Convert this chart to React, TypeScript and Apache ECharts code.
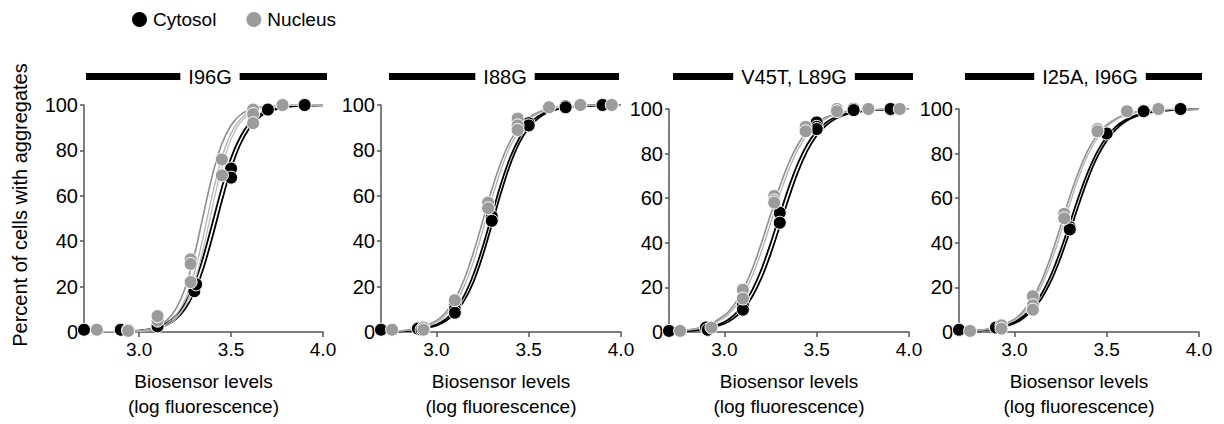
import { useEffect, useRef } from 'react';
import * as echarts from 'echarts';

const FONT = '"Liberation Sans", Arial, Helvetica, sans-serif';

const X_GRID = [2.7, 2.8, 2.9, 3.0, 3.05, 3.1, 3.15, 3.2, 3.25, 3.3, 3.35, 3.4, 3.45, 3.5, 3.55, 3.6, 3.65, 3.7, 3.8, 3.9, 4.0];

const X_TICKS = [3.0, 3.5, 4.0];
const PANEL_TITLES = ['I96G', 'I88G', 'V45T, L89G', 'I25A, I96G'];
const LEGEND_NAMES = ['Cytosol', 'Nucleus'];

// ---- Panel 1: I96G ----
const P1_CYTO_FIT_A = [0.02, 0.05, 0.18, 0.63, 1.18, 2.18, 3.98, 7.2, 12.6, 21.2, 33.5, 48.5, 63.7, 76.7, 85.9, 92.0, 95.5, 97.6, 99.3, 99.8, 99.94];
const P1_CYTO_FIT_B = [0.01, 0.04, 0.14, 0.49, 0.93, 1.7, 3.1, 5.7, 10.1, 17.4, 28.2, 42.3, 57.7, 71.8, 82.6, 89.9, 94.3, 96.9, 99.1, 99.7, 99.9];
const P1_NUC_FIT_A = [0.01, 0.03, 0.13, 0.56, 1.2, 2.5, 5.1, 10.2, 19.3, 33.7, 51.9, 69.6, 82.9, 91.1, 95.6, 97.9, 99.0, 99.5, 99.9, 100, 100];
const P1_NUC_FIT_B = [0, 0.02, 0.09, 0.39, 0.82, 1.7, 3.6, 7.3, 14.2, 25.9, 42.6, 61.1, 76.9, 87.5, 93.7, 96.9, 98.5, 99.3, 99.8, 100, 100];
const P1_NUC_FIT_C = [0, 0.01, 0.07, 0.31, 0.65, 1.4, 2.85, 5.9, 11.6, 21.8, 37.1, 55.6, 72.7, 84.9, 92.3, 96.2, 98.2, 99.1, 99.8, 100, 100];
const P1_CYTO_PTS = [[2.70, 1], [2.90, 1], [3.10, 2.5], [3.30, 18], [3.31, 21], [3.50, 72], [3.50, 68], [3.70, 98], [3.90, 100]];
const P1_NUC_PTS = [[2.77, 1], [2.94, 1], [2.94, 0.5], [3.10, 5], [3.10, 7], [3.28, 32], [3.28, 30], [3.28, 22], [3.45, 76], [3.45, 69], [3.62, 98], [3.62, 96], [3.62, 92], [3.78, 100]];

// ---- Panel 2: I88G ----
const P2_CYTO_FIT_A = [0.11, 0.34, 1.06, 3.3, 5.6, 9.6, 15.9, 25.2, 37.3, 51.4, 65.3, 77.0, 85.6, 91.4, 94.9, 97.1, 98.3, 99.1, 99.7, 99.9, 100];
const P2_CYTO_FIT_B = [0.09, 0.28, 0.9, 2.8, 4.8, 8.2, 13.7, 21.9, 33.4, 47.1, 61.3, 73.8, 83.4, 89.9, 94.0, 96.6, 98.0, 98.9, 99.6, 99.9, 100];
const P2_NUC_FIT_A = [0.17, 0.53, 1.66, 5.0, 8.6, 14.4, 23.0, 34.8, 48.6, 62.7, 74.8, 84.1, 90.4, 94.4, 96.7, 98.1, 98.9, 99.4, 99.8, 100, 100];
const P2_NUC_FIT_B = [0.14, 0.45, 1.4, 4.3, 7.4, 12.4, 20.1, 30.8, 44.3, 58.6, 71.5, 81.8, 88.8, 93.4, 96.2, 97.8, 98.7, 99.3, 99.8, 99.9, 100];
const P2_CYTO_PTS = [[2.70, 1], [2.90, 1.5], [2.92, 1], [3.10, 12], [3.10, 10], [3.10, 8.5], [3.30, 51], [3.30, 49], [3.50, 92], [3.50, 91], [3.70, 99.5], [3.70, 99], [3.90, 100]];
const P2_NUC_PTS = [[2.76, 1], [2.93, 2], [2.93, 1], [3.10, 14], [3.28, 57], [3.28, 54.5], [3.44, 94], [3.44, 91], [3.44, 89], [3.61, 99], [3.78, 100], [3.95, 100]];

// ---- Panel 3: V45T, L89G ----
const P3_CYTO_FIT_A = [0.2, 0.58, 1.63, 4.5, 7.4, 11.9, 18.7, 28.0, 39.7, 52.6, 65.2, 76.0, 84.3, 90.1, 93.9, 96.3, 97.8, 98.7, 99.5, 99.8, 99.9];
const P3_CYTO_FIT_B = [0.17, 0.47, 1.3, 3.7, 6.1, 9.9, 15.7, 24.0, 34.8, 47.4, 60.3, 72.0, 81.3, 88.1, 92.6, 95.5, 97.3, 98.4, 99.4, 99.8, 99.9];
const P3_NUC_FIT_A = [0.35, 0.98, 2.7, 7.4, 11.9, 18.7, 28.0, 39.7, 52.6, 65.2, 76.0, 84.3, 90.1, 93.9, 96.3, 97.8, 98.7, 99.2, 99.7, 99.9, 100];
const P3_NUC_FIT_B = [0.3, 0.83, 2.35, 6.4, 10.4, 16.4, 25.0, 35.9, 48.7, 61.5, 73.1, 82.1, 88.6, 92.9, 95.7, 97.4, 98.4, 99.1, 99.7, 99.9, 100];
const P3_CYTO_PTS = [[2.70, 0.5], [2.90, 2], [2.91, 1], [3.10, 12], [3.10, 10], [3.30, 53.5], [3.30, 49], [3.50, 94], [3.50, 92], [3.50, 91], [3.70, 100], [3.70, 99.5], [3.90, 100]];
const P3_NUC_PTS = [[2.76, 0.5], [2.93, 2], [3.10, 19], [3.10, 15], [3.27, 61], [3.27, 59], [3.27, 58], [3.44, 92], [3.44, 90], [3.61, 100], [3.61, 99], [3.78, 100], [3.95, 100]];

// ---- Panel 4: I25A, I96G ----
const P4_CYTO_FIT_A = [0.24, 0.64, 1.7, 4.5, 7.2, 11.4, 17.5, 25.9, 36.6, 48.8, 61.1, 72.1, 81.0, 87.5, 92.1, 95.0, 96.9, 98.1, 99.3, 99.7, 99.9];
const P4_CYTO_FIT_B = [0.2, 0.55, 1.5, 3.9, 6.3, 10.0, 15.4, 23.1, 33.2, 45.0, 57.4, 69.0, 78.6, 85.8, 90.9, 94.3, 96.4, 97.8, 99.2, 99.7, 99.9];
const P4_NUC_FIT_A = [0.25, 0.72, 2.1, 5.8, 9.5, 15.3, 23.5, 34.5, 47.3, 60.6, 72.3, 81.8, 88.4, 92.9, 95.7, 97.4, 98.5, 99.1, 99.7, 99.9, 100];
const P4_NUC_FIT_B = [0.22, 0.64, 1.8, 5.2, 8.5, 13.7, 21.3, 31.6, 44.0, 57.4, 69.7, 79.7, 87.0, 92.0, 95.1, 97.1, 98.3, 99.0, 99.6, 99.9, 100];
const P4_CYTO_PTS = [[2.70, 1], [2.90, 2], [3.10, 10], [3.30, 47], [3.30, 46], [3.50, 89], [3.70, 99], [3.90, 100]];
const P4_NUC_PTS = [[2.76, 0.5], [2.93, 3], [2.93, 1.5], [3.10, 16], [3.10, 12], [3.10, 10], [3.27, 53], [3.27, 51], [3.45, 91], [3.45, 90], [3.61, 99], [3.78, 100]];

const PANEL_DATA = [
  { cytoFits: [P1_CYTO_FIT_A, P1_CYTO_FIT_B], nucFits: [P1_NUC_FIT_A, P1_NUC_FIT_B, P1_NUC_FIT_C], cytoPts: P1_CYTO_PTS, nucPts: P1_NUC_PTS },
  { cytoFits: [P2_CYTO_FIT_A, P2_CYTO_FIT_B], nucFits: [P2_NUC_FIT_A, P2_NUC_FIT_B], cytoPts: P2_CYTO_PTS, nucPts: P2_NUC_PTS },
  { cytoFits: [P3_CYTO_FIT_A, P3_CYTO_FIT_B], nucFits: [P3_NUC_FIT_A, P3_NUC_FIT_B], cytoPts: P3_CYTO_PTS, nucPts: P3_NUC_PTS },
  { cytoFits: [P4_CYTO_FIT_A, P4_CYTO_FIT_B], nucFits: [P4_NUC_FIT_A, P4_NUC_FIT_B], cytoPts: P4_CYTO_PTS, nucPts: P4_NUC_PTS },
];

// layout (pixels)
const GRIDS = [
  { left: 84, top: 105, width: 239, height: 227 },
  { left: 381, top: 105, width: 240, height: 227 },
  { left: 669, top: 109, width: 240, height: 228 },
  { left: 959, top: 109, width: 240, height: 228 },
];
const TITLE_BARS = [
  { x0: 86, x1: 327, cx: 210 },
  { x0: 389, x1: 619, cx: 505 },
  { x0: 673, x1: 913, cx: 794 },
  { x0: 965, x1: 1202, cx: 1090 },
];

const CYTO_COLOR = '#000000';
const NUC_COLOR = '#9b9b9b';
const NUC_FIT_COLORS = ['#8e8e8e', '#b0b0b0', '#bdbdbd'];
const AXIS_COLOR = '#555555';

export default function App() {
  const ref = useRef<HTMLDivElement>(null);

  useEffect(() => {
    if (!ref.current) return;
    const chart = echarts.init(ref.current, undefined, { renderer: 'svg' });

    const xAxis: any[] = [];
    const yAxis: any[] = [];
    const series: any[] = [];
    const graphic: any[] = [];

    GRIDS.forEach((g, i) => {
      xAxis.push({
        type: 'value',
        gridIndex: i,
        min: 2.7,
        max: 4.0,
        axisLine: { show: true, onZero: false, lineStyle: { color: AXIS_COLOR, width: 1.5 } },
        axisTick: { show: true, length: 5, customValues: X_TICKS, lineStyle: { color: AXIS_COLOR, width: 1.5 } },
        axisLabel: {
          customValues: X_TICKS,
          formatter: (v: number) => v.toFixed(1),
          color: '#000',
          fontSize: 19,
          fontFamily: FONT,
          margin: 8,
        },
        splitLine: { show: false },
        name: 'Biosensor levels\n(log fluorescence)',
        nameLocation: 'middle',
        nameGap: 37,
        nameTextStyle: { color: '#000', fontSize: 19, fontFamily: FONT, lineHeight: 25 },
      });
      yAxis.push({
        type: 'value',
        gridIndex: i,
        min: 0,
        max: 100,
        interval: 20,
        axisLine: { show: true, lineStyle: { color: AXIS_COLOR, width: 1.5 } },
        axisTick: { show: true, length: 4, lineStyle: { color: AXIS_COLOR, width: 1.5 } },
        axisLabel: { color: '#000', fontSize: 20, fontFamily: FONT, margin: 6 },
        splitLine: { show: false },
      });

      const p = PANEL_DATA[i];
      p.cytoFits.forEach((fit, k) => {
        series.push({
          type: 'line',
          name: `cyto-fit-${i}-${k}`,
          xAxisIndex: i,
          yAxisIndex: i,
          data: X_GRID.map((x, j) => [x, fit[j]]),
          showSymbol: false,
          smooth: 0.35,
          lineStyle: { color: CYTO_COLOR, width: 1.8 },
          silent: true,
          z: 2,
        });
      });
      p.nucFits.forEach((fit, k) => {
        series.push({
          type: 'line',
          name: `nuc-fit-${i}-${k}`,
          xAxisIndex: i,
          yAxisIndex: i,
          data: X_GRID.map((x, j) => [x, fit[j]]),
          showSymbol: false,
          smooth: 0.35,
          lineStyle: { color: NUC_FIT_COLORS[k], width: k === 0 ? 1.6 : 1.3 },
          silent: true,
          z: 2,
        });
      });
      series.push({
        type: 'scatter',
        name: LEGEND_NAMES[0],
        xAxisIndex: i,
        yAxisIndex: i,
        data: p.cytoPts,
        symbol: 'circle',
        symbolSize: 13,
        clip: false,
        itemStyle: { color: CYTO_COLOR, borderColor: '#fff', borderWidth: 1, opacity: 1 },
        z: 3,
      });
      series.push({
        type: 'scatter',
        name: LEGEND_NAMES[1],
        xAxisIndex: i,
        yAxisIndex: i,
        data: p.nucPts,
        symbol: 'circle',
        symbolSize: 13,
        clip: false,
        itemStyle: { color: NUC_COLOR, borderColor: '#fff', borderWidth: 1, opacity: 1 },
        z: 4,
      });

      const tb = TITLE_BARS[i];
      graphic.push({
        type: 'rect',
        shape: { x: tb.x0, y: 73, width: tb.x1 - tb.x0, height: 7 },
        style: { fill: '#000' },
        z: 10,
      });
      graphic.push({
        type: 'text',
        x: tb.cx,
        y: 77,
        z: 11,
        style: {
          text: PANEL_TITLES[i],
          fill: '#000',
          font: `20px ${FONT}`,
          align: 'center',
          verticalAlign: 'middle',
          backgroundColor: '#fff',
          padding: [2, 8, 2, 8],
        },
      });
    });

    graphic.push({
      type: 'text',
      x: 20,
      y: 205,
      rotation: Math.PI / 2,
      style: {
        text: 'Percent of cells with aggregates',
        fill: '#000',
        font: `20px ${FONT}`,
        align: 'center',
        verticalAlign: 'middle',
      },
    });

    chart.setOption({
      animation: false,
      backgroundColor: '#fff',
      grid: GRIDS.map((g) => ({ ...g, containLabel: false })),
      xAxis,
      yAxis,
      series,
      graphic,
      legend: {
        data: LEGEND_NAMES,
        left: 132,
        top: 10,
        padding: 0,
        icon: 'circle',
        itemWidth: 15,
        itemHeight: 15,
        itemGap: 30,
        itemStyle: { borderWidth: 0 },
        textStyle: { color: '#000', fontSize: 19, fontFamily: FONT, padding: [0, 0, 0, 1] },
        selectedMode: false,
      },
    });

    return () => chart.dispose();
  }, []);

  return (
    <div
      ref={ref}
      style={{ position: 'fixed', left: 0, top: 0, width: 1224, height: 424, background: '#fff' }}
    />
  );
}
